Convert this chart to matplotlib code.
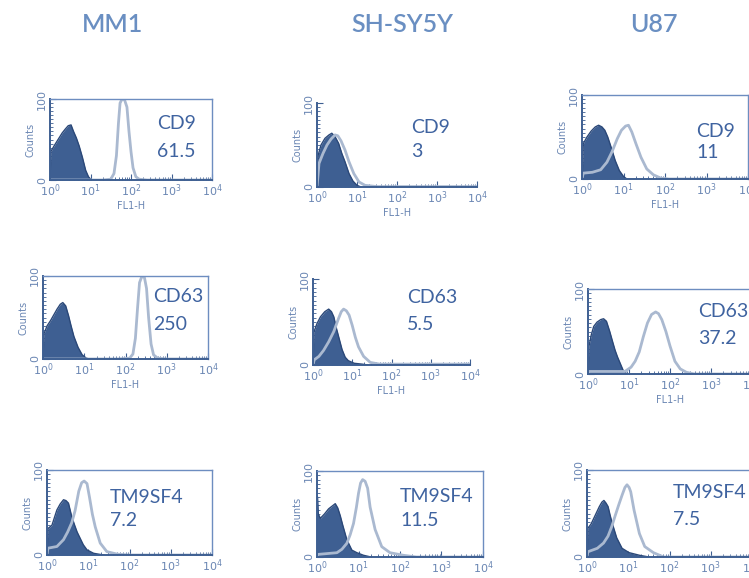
import matplotlib.pyplot as plt
import numpy as np
from matplotlib.ticker import MultipleLocator, LogLocator, NullFormatter

# flow cytometry histograms: x values are log10(FL1-H), y values are counts
cell_lines = ['MM1', 'SH-SY5Y', 'U87']
markers = ['CD9', 'CD63', 'TM9SF4']
mfi = [['61.5', '3', '11'],
       ['250', '5.5', '37.2'],
       ['7.2', '11.5', '7.5']]

# row CD9
mm1_cd9_iso_x = [0, 0.02, 0.1, 0.2, 0.3, 0.38, 0.45, 0.52, 0.58, 0.65, 0.72, 0.8, 0.88, 0.95, 1.02]
mm1_cd9_iso_y = [0, 35, 42, 50, 58, 63, 67, 68, 60, 52, 42, 28, 12, 4, 0]
mm1_cd9_ab_x = [0, 1.3, 1.5, 1.58, 1.64, 1.69, 1.73, 1.78, 1.84, 1.9, 1.95, 2.0, 2.05, 2.12, 2.2, 2.4, 4.0]
mm1_cd9_ab_y = [0, 0, 1, 8, 30, 70, 95, 100, 99, 90, 60, 35, 15, 4, 1, 0, 0]

sh_cd9_iso_x = [0, 0.03, 0.1, 0.2, 0.3, 0.37, 0.45, 0.54, 0.62, 0.7, 0.8, 0.9, 1.0, 1.1]
sh_cd9_iso_y = [0, 38, 50, 58, 62, 64, 60, 52, 40, 30, 16, 7, 2, 0]
sh_cd9_ab_x = [0, 0.05, 0.15, 0.25, 0.35, 0.45, 0.52, 0.6, 0.7, 0.8, 0.92, 1.05, 1.2, 1.5, 4.0]
sh_cd9_ab_y = [0, 28, 40, 50, 57, 62, 61, 55, 44, 30, 16, 6, 2, 0.5, 0.5]

u87_cd9_iso_x = [0, 0.03, 0.12, 0.22, 0.32, 0.4, 0.48, 0.55, 0.62, 0.7, 0.8, 0.9, 1.0, 1.08]
u87_cd9_iso_y = [0, 42, 50, 57, 62, 64, 62, 58, 50, 38, 22, 10, 3, 0]
u87_cd9_ab_x = [0, 0.03, 0.25, 0.45, 0.6, 0.72, 0.85, 0.95, 1.05, 1.12, 1.2, 1.3, 1.42, 1.56, 1.72, 1.9, 2.1, 4.0]
u87_cd9_ab_y = [0, 7, 8, 11, 20, 32, 48, 58, 63, 64, 56, 42, 26, 12, 5, 1, 0, 0]

# row CD63
mm1_cd63_iso_x = [0, 0.02, 0.1, 0.18, 0.26, 0.34, 0.42, 0.48, 0.55, 0.62, 0.68, 0.75, 0.85, 0.95, 1.05, 1.12]
mm1_cd63_iso_y = [0, 30, 40, 46, 53, 60, 66, 68, 64, 52, 40, 27, 14, 5, 1, 0]
mm1_cd63_ab_x = [0, 1.8, 2.1, 2.18, 2.24, 2.29, 2.34, 2.4, 2.46, 2.51, 2.56, 2.62, 2.68, 2.78, 3.0, 4.0]
mm1_cd63_ab_y = [0, 0, 1, 6, 25, 60, 92, 100, 98, 85, 50, 18, 5, 1, 0, 0]

sh_cd63_iso_x = [0, 0.02, 0.1, 0.19, 0.3, 0.4, 0.47, 0.53, 0.6, 0.67, 0.74, 0.82, 0.9, 1.05, 1.25, 1.4]
sh_cd63_iso_y = [0, 38, 48, 56, 62, 65, 62, 56, 42, 30, 18, 9, 5, 2, 1, 0]
sh_cd63_ab_x = [0, 0.03, 0.15, 0.27, 0.4, 0.53, 0.65, 0.72, 0.78, 0.85, 0.92, 1.0, 1.08, 1.16, 1.29, 1.46, 1.7, 4.0]
sh_cd63_ab_y = [0, 6, 10, 17, 27, 39, 54, 62, 65, 63, 58, 46, 32, 21, 10, 3, 1, 1]

u87_cd63_iso_x = [0, 0.02, 0.08, 0.14, 0.22, 0.31, 0.38, 0.45, 0.53, 0.6, 0.66, 0.72, 0.79, 0.86, 0.95]
u87_cd63_iso_y = [0, 32, 46, 56, 61, 64, 65, 62, 50, 38, 28, 20, 12, 4, 0]
u87_cd63_ab_x = [0, 0.03, 0.5, 0.9, 1.05, 1.15, 1.25, 1.35, 1.45, 1.55, 1.65, 1.72, 1.8, 1.9, 2.0, 2.12, 2.25, 2.4, 2.6, 4.0]
u87_cd63_ab_y = [0, 3, 3, 3, 8, 15, 26, 44, 60, 70, 73, 71, 64, 50, 33, 15, 6, 2, 0, 0]

# row TM9SF4
mm1_tm_iso_x = [0, 0.02, 0.12, 0.24, 0.32, 0.4, 0.46, 0.52, 0.6, 0.67, 0.73, 0.8, 0.88, 0.97, 1.13, 1.37]
mm1_tm_iso_y = [0, 31, 35, 53, 60, 65, 64, 61, 45, 35, 27, 20, 12, 6, 2, 0]
mm1_tm_ab_x = [0, 0.02, 0.24, 0.4, 0.5, 0.6, 0.68, 0.77, 0.84, 0.9, 0.97, 1.03, 1.1, 1.17, 1.29, 1.45, 1.7, 2.0, 4.0]
mm1_tm_ab_y = [0, 8, 10, 18, 27, 38, 52, 75, 85, 87, 84, 68, 48, 33, 14, 4, 1, 0, 0]

sh_tm_iso_x = [0, 0.01, 0.03, 0.08, 0.18, 0.28, 0.36, 0.44, 0.5, 0.56, 0.62, 0.72, 0.84, 0.96, 1.12, 1.3]
sh_tm_iso_y = [0, 70, 50, 45, 50, 56, 59, 62, 57, 48, 37, 20, 8, 5, 2, 0]
sh_tm_ab_x = [0, 0.02, 0.48, 0.6, 0.72, 0.8, 0.88, 0.95, 1.0, 1.05, 1.1, 1.16, 1.22, 1.28, 1.4, 1.56, 1.76, 2.08, 2.4, 4.0]
sh_tm_ab_y = [0, 3, 5, 9, 16, 26, 39, 58, 74, 86, 90, 88, 80, 58, 32, 12, 5, 2, 0, 0]

u87_tm_iso_x = [0, 0.02, 0.1, 0.17, 0.3, 0.36, 0.41, 0.46, 0.51, 0.56, 0.61, 0.72, 0.85, 1.02, 1.27, 1.5]
u87_tm_iso_y = [0, 33, 38, 45, 58, 63, 65, 62, 58, 48, 39, 22, 10, 5, 2, 0]
u87_tm_ab_x = [0, 0.02, 0.25, 0.4, 0.51, 0.6, 0.68, 0.77, 0.85, 0.92, 0.97, 1.02, 1.06, 1.14, 1.27, 1.4, 1.61, 1.86, 4.0]
u87_tm_ab_y = [0, 6, 10, 16, 24, 35, 47, 60, 71, 80, 83, 80, 75, 54, 27, 12, 5, 0, 0]

iso = [[(mm1_cd9_iso_x, mm1_cd9_iso_y), (sh_cd9_iso_x, sh_cd9_iso_y), (u87_cd9_iso_x, u87_cd9_iso_y)],
       [(mm1_cd63_iso_x, mm1_cd63_iso_y), (sh_cd63_iso_x, sh_cd63_iso_y), (u87_cd63_iso_x, u87_cd63_iso_y)],
       [(mm1_tm_iso_x, mm1_tm_iso_y), (sh_tm_iso_x, sh_tm_iso_y), (u87_tm_iso_x, u87_tm_iso_y)]]
ab = [[(mm1_cd9_ab_x, mm1_cd9_ab_y), (sh_cd9_ab_x, sh_cd9_ab_y), (u87_cd9_ab_x, u87_cd9_ab_y)],
      [(mm1_cd63_ab_x, mm1_cd63_ab_y), (sh_cd63_ab_x, sh_cd63_ab_y), (u87_cd63_ab_x, u87_cd63_ab_y)],
      [(mm1_tm_ab_x, mm1_tm_ab_y), (sh_tm_ab_x, sh_tm_ab_y), (u87_tm_ab_x, u87_tm_ab_y)]]

# axes boxes in pixels: left, top, right, bottom
boxes = [[(50, 99, 212, 180), (317, 103, 477, 187), (582, 95, 748, 179)],
         [(43, 276, 208, 359), (313, 279, 470, 365), (588, 289, 752, 374)],
         [(47, 470, 212, 555), (317, 471, 483, 557), (587, 470, 752, 557)]]
# label positions in axes fractions (x, y of marker name, y of value)
label_pos = [[(0.66, 0.70, 0.35), (0.59, 0.71, 0.42), (0.69, 0.56, 0.32)],
             [(0.67, 0.75, 0.41), (0.60, 0.78, 0.47), (0.67, 0.73, 0.42)],
             [(0.38, 0.68, 0.41), (0.50, 0.70, 0.43), (0.52, 0.74, 0.43)]]
open_box = [[False, True, False], [False, True, False], [False, False, False]]

W, H = 749, 578
fig = plt.figure(figsize=(W / 100, H / 100), dpi=100)

dark = '#3e5f92'
edge = '#2b4878'
light = '#aab9d0'
tick_col = '#6a86b3'
text_col = '#3f63a0'

for r in range(3):
    for c in range(3):
        l, t, rr, b = boxes[r][c]
        ax = fig.add_axes([l / W, 1 - b / H, (rr - l) / W, (b - t) / H])
        ix, iy = iso[r][c]
        axx, ayy = ab[r][c]
        ax.fill_between(np.power(10.0, ix), iy, color=dark, lw=0)
        ax.plot(np.power(10.0, ix), iy, color=edge, lw=1)
        ax.plot(np.power(10.0, axx), ayy, color=light, lw=2)
        ax.set_xscale('log')
        ax.set_xlim(1, 1e4)
        ax.set_ylim(0, 100)
        ax.set_xticks([1, 10, 100, 1000, 10000])
        ax.xaxis.set_minor_locator(LogLocator(base=10, subs=np.arange(2, 10), numticks=20))
        ax.xaxis.set_minor_formatter(NullFormatter())
        ax.set_yticks([0, 100])
        ax.yaxis.set_minor_locator(MultipleLocator(5))
        ax.tick_params(which='both', direction='in', colors=dark, labelcolor=tick_col, labelsize=8, pad=2)
        ax.tick_params(which='major', length=4)
        ax.tick_params(which='minor', length=2)
        for lab in ax.get_yticklabels():
            lab.set_rotation(90)
            lab.set_va('center')
        ax.set_ylabel('Counts', color=tick_col, fontsize=7, labelpad=1)
        # bottom row's x label falls below the picture in the reference
        if r < 2:
            ax.set_xlabel('FL1-H', color=tick_col, fontsize=7, labelpad=1)
        for s in ['left', 'bottom']:
            ax.spines[s].set_color(dark)
            ax.spines[s].set_linewidth(1.4)
        if open_box[r][c]:
            ax.spines['top'].set_visible(False)
            ax.spines['right'].set_visible(False)
        else:
            for s in ['top', 'right']:
                ax.spines[s].set_color('#6d8dc0')
                ax.spines[s].set_linewidth(1)
        lx, ly1, ly2 = label_pos[r][c]
        ax.text(lx, ly1, markers[r], transform=ax.transAxes, fontsize=14, color=text_col,
                family='Lato', va='center', ha='left')
        ax.text(lx, ly2, mfi[r][c], transform=ax.transAxes, fontsize=14, color=text_col,
                family='Lato', va='center', ha='left')

title_x = [113, 402, 654]
for name, tx in zip(cell_lines, title_x):
    fig.text(tx / W, 1 - 25 / H, name, ha='center', va='center', fontsize=18,
             fontweight='semibold', color='#6a8fc2', family='Lato')

fig.savefig('out.png', dpi=100)
